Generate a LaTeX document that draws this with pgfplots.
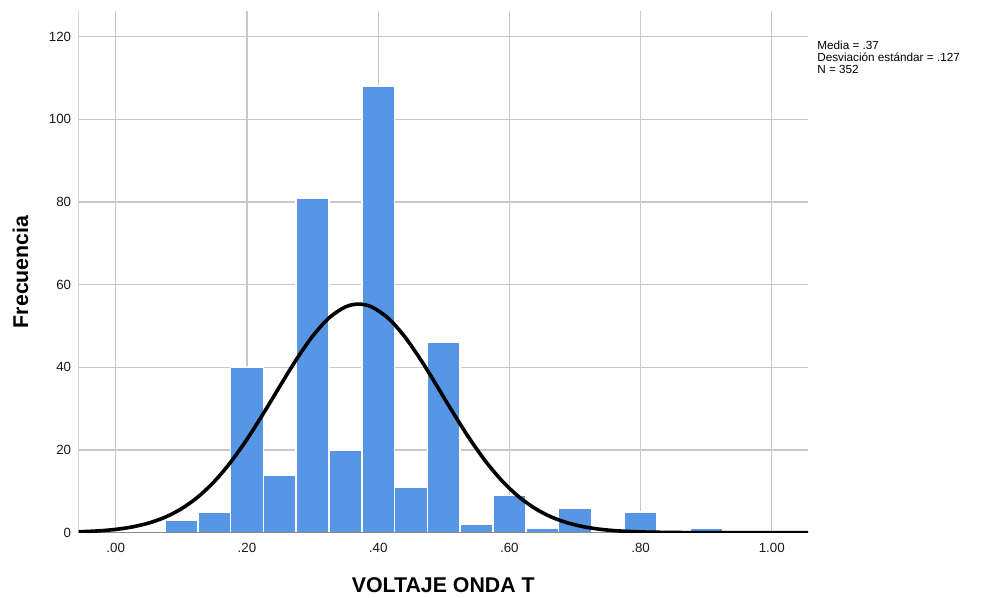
\documentclass[border=0pt]{standalone}
\usepackage{pgfplots}
\pgfplotsset{compat=1.18}
\usepackage{fontspec}
\setmainfont{Liberation Sans}
\definecolor{barblue}{RGB}{86,150,229}
\definecolor{gridgray}{RGB}{200,200,200}
\definecolor{axgray}{RGB}{140,140,140}
\begin{document}
\begin{tikzpicture}
\begin{axis}[
  name=ax,
  scale only axis,
  width=547.1pt, height=391.3pt,
  xmin=-0.0567, xmax=1.0552,
  ymin=0, ymax=126.2,
  xtick={0,0.2,0.4,0.6,0.8,1.0},
  xticklabels={.00,.20,.40,.60,.80,1.00},
  ytick={0,20,40,60,80,100,120},
  grid=major,
  major grid style={draw=gridgray, line width=0.9pt},
  major tick length=0pt,
  axis line style={draw=none},
  /pgf/number format/assume math mode=true,
  tick label style={font=\fontsize{10}{12}\selectfont, text=black!90},
  xticklabel style={yshift=-4pt},
  yticklabel style={xshift=-2pt},
  xlabel={\textbf{VOLTAJE ONDA T}},
  ylabel={\textbf{Frecuencia}},
  xlabel style={at={([yshift=-39.5pt]axis description cs:0.5,0)}, anchor=center, font=\fontsize{16}{18}\selectfont},
  ylabel style={at={([xshift=-43.5pt]axis description cs:0,0.5)}, anchor=center, font=\fontsize{16}{18}\selectfont},
  clip=true,
]
\addplot[ybar, bar width=0.05, bar shift=0pt, fill=barblue, draw=white, line width=1.2pt]
coordinates {
(0.10,3) (0.15,5) (0.20,40) (0.25,14) (0.30,81) (0.35,20) (0.40,108)
(0.45,11) (0.50,46) (0.55,2) (0.60,9) (0.65,1) (0.70,6) (0.80,5) (0.90,1)
};
\draw[axgray, line width=1.2pt] (rel axis cs:0,0) -- (rel axis cs:1,0);
\draw[axgray, line width=1.2pt] (rel axis cs:0,0) -- (rel axis cs:0,1);
\addplot[black, line width=2.7pt, smooth] coordinates {
(-0.06,0.18) (-0.025,0.439) (0.00,0.793) (0.025,1.381) (0.05,2.31) (0.075,3.725)
(0.10,5.77) (0.125,8.60) (0.15,12.33) (0.175,17.01) (0.20,22.57) (0.225,28.81)
(0.25,35.38) (0.275,41.80) (0.30,47.50) (0.325,51.93) (0.35,54.61) (0.37,55.29)
(0.39,54.61) (0.415,51.93) (0.44,47.50) (0.465,41.80) (0.49,35.38) (0.515,28.81)
(0.54,22.57) (0.565,17.01) (0.59,12.33) (0.615,8.60) (0.64,5.77) (0.665,3.725)
(0.69,2.31) (0.715,1.381) (0.74,0.793) (0.765,0.439) (0.80,0.179) (0.85,0.044)
(0.90,0.009) (1.00,0.0) (1.06,0.0)
};
\end{axis}
\node[anchor=north west, inner sep=0pt, align=left, font=\fontsize{8.8}{8.9}\selectfont]
  at ([shift={(553.9pt,368.8pt)}]ax.south west)
  {Media = .37\\Desviación estándar = .127\\N = 352};
\path ([shift={(-58.9pt,-49pt)}]ax.south west) rectangle ++(743.25pt,448.5pt);
\end{tikzpicture}
\end{document}
